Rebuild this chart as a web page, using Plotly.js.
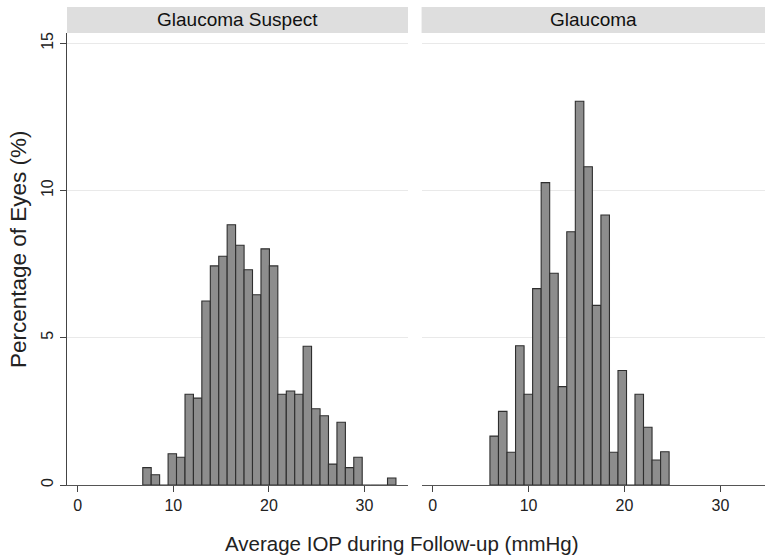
<!DOCTYPE html>
<html>
<head>
<meta charset="utf-8">
<script src="https://cdn.plot.ly/plotly-3.0.1.min.js"></script>
<style>html,body{margin:0;padding:0;background:#fff;}#chart{width:776px;height:559px;}</style>
</head>
<body>
<div id="chart"></div>
<script>
// Panel titles
const panelTitles = ["Glaucoma Suspect", "Glaucoma"];

// Glaucoma Suspect: bin midpoints (mmHg) and percentage of eyes
const suspectBinMid = [7.24, 8.12, 9.01, 9.89, 10.77, 11.66, 12.54, 13.42, 14.31, 15.19,
  16.07, 16.96, 17.84, 18.72, 19.61, 20.49, 21.37, 22.26, 23.14, 24.02,
  24.91, 25.79, 26.67, 27.56, 28.44, 29.32, 30.21, 31.09, 31.97, 32.85];
const suspectPct = [0.59, 0.35, 0, 1.06, 0.94, 3.08, 2.95, 6.25, 7.44, 7.77,
  8.84, 8.14, 7.31, 6.46, 8.02, 7.44, 3.08, 3.19, 3.08, 4.71,
  2.59, 2.35, 0.71, 2.13, 0.59, 0.94, 0, 0, 0, 0.24];
const suspectBinWidth = 0.883;

// Glaucoma: bin midpoints (mmHg) and percentage of eyes
const glaucomaBinMid = [6.42, 7.31, 8.20, 9.09, 9.98, 10.87, 11.76, 12.65, 13.54, 14.43,
  15.32, 16.21, 17.10, 17.99, 18.88, 19.77, 20.66, 21.54, 22.43, 23.32, 24.21];
const glaucomaPct = [1.66, 2.50, 1.11, 4.73, 3.08, 6.67, 10.27, 7.19, 3.34, 8.60,
  13.03, 10.81, 6.10, 9.17, 1.11, 3.89, 0, 3.08, 1.96, 0.85, 1.13];
const glaucomaBinWidth = 0.889;

// Axis ticks and titles
const xTicks = [0, 10, 20, 30];
const yTicks = [0, 5, 10, 15];
const xTitle = "Average IOP during Follow-up (mmHg)";
const yTitle = "Percentage of Eyes (%)";

const FONT = "Liberation Sans, Arial, Helvetica, sans-serif";
const barStyle = {color: "#8d8d8d", line: {color: "#2e2e2e", width: 1.1}};

const traces = [
  {type: "bar", x: suspectBinMid, y: suspectPct, width: suspectBinWidth,
   marker: barStyle, xaxis: "x", yaxis: "y", showlegend: false, hoverinfo: "x+y"},
  {type: "bar", x: glaucomaBinMid, y: glaucomaPct, width: glaucomaBinWidth,
   marker: barStyle, xaxis: "x2", yaxis: "y", showlegend: false, hoverinfo: "x+y"}
];

const xAxisBase = {
  range: [-1.13, 34.55], tickvals: xTicks, ticktext: xTicks.map(String),
  ticks: "outside", ticklen: 6, tickwidth: 1, tickcolor: "#444",
  showline: true, linecolor: "#555", linewidth: 1.2,
  showgrid: false, zeroline: false, anchor: "y",
  tickfont: {family: FONT, size: 16, color: "#222"}
};

const plotH = 485 - 33;
const layout = {
  width: 776, height: 559,
  margin: {l: 67, r: 11, t: 33, b: 74},
  paper_bgcolor: "#ffffff", plot_bgcolor: "#ffffff",
  bargap: 0,
  font: {family: FONT, color: "#222"},
  xaxis: Object.assign({}, xAxisBase, {domain: [0, 0.4885]}),
  xaxis2: Object.assign({}, xAxisBase, {domain: [0.508, 1], range: [-1.15, 34.65]}),
  yaxis: {
    range: [0, 15.35], tickvals: yTicks, ticktext: yTicks.map(String),
    tickangle: -90, ticks: "outside", ticklen: 6, tickwidth: 1, tickcolor: "#444",
    showline: true, linecolor: "#444", linewidth: 1.2,
    showgrid: true, gridcolor: "#e9e9e9", gridwidth: 1.2,
    zeroline: false, anchor: "x",
    tickfont: {family: FONT, size: 16, color: "#222"}
  },
  shapes: [
    {type: "rect", xref: "x domain", yref: "paper", x0: 0, x1: 1, y0: 1.0, y1: 1 + 26 / plotH,
     fillcolor: "#dedede", line: {width: 0}, layer: "below"},
    {type: "rect", xref: "x2 domain", yref: "paper", x0: 0, x1: 1, y0: 1.0, y1: 1 + 26 / plotH,
     fillcolor: "#dedede", line: {width: 0}, layer: "below"}
  ],
  annotations: [
    {text: panelTitles[0], xref: "x domain", yref: "paper", x: 0.5, y: 1 + 13 / plotH,
     xanchor: "center", yanchor: "middle", showarrow: false,
     font: {family: FONT, size: 19, color: "#111"}},
    {text: panelTitles[1], xref: "x2 domain", yref: "paper", x: 0.5, y: 1 + 13 / plotH,
     xanchor: "center", yanchor: "middle", showarrow: false,
     font: {family: FONT, size: 19, color: "#111"}},
    {text: xTitle, xref: "paper", yref: "paper", x: (402 - 67) / 698, y: -(543 - 485) / plotH,
     xanchor: "center", yanchor: "middle", showarrow: false,
     font: {family: FONT, size: 20.5, color: "#222"}},
    {text: yTitle, xref: "paper", yref: "paper", x: -(67 - 19) / 698, y: (485 - 249) / plotH,
     xanchor: "center", yanchor: "middle", textangle: -90, showarrow: false,
     font: {family: FONT, size: 22.5, color: "#222"}}
  ]
};

Plotly.newPlot("chart", traces, layout, {displayModeBar: false, staticPlot: true});
</script>
</body>
</html>
